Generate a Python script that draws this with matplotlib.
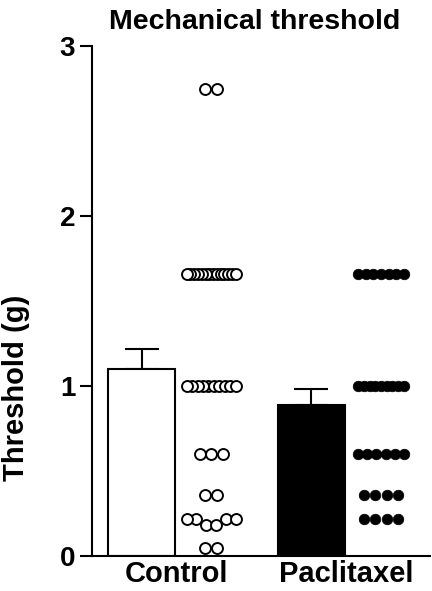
import numpy as np
import matplotlib
matplotlib.use("Agg")
import matplotlib.pyplot as plt

plt.rcParams['font.family'] = ['Liberation Sans', 'DejaVu Sans']
plt.rcParams['font.weight'] = 'bold'

categories = ["Control", "Paclitaxel"]
bar_means = [1.10, 0.89]
bar_sem_top = [1.22, 0.98]

control_values = ([2.75] * 2 + [1.66] * 14 + [1.0] * 10 + [0.60] * 3 +
                  [0.36] * 2 + [0.22] * 4 + [0.18] * 2 + [0.05] * 2)
paclitaxel_values = ([1.66] * 7 + [1.0] * 9 + [0.60] * 6 + [0.36] * 4 + [0.22] * 4)
yticks = [0, 1, 2, 3]

fig = plt.figure(figsize=(4.32, 5.91), dpi=100)
ax = fig.add_axes([92 / 432, 1 - 556 / 591, 1 - 92 / 432 - 0.004, (556 - 46) / 591])

bar_w = 0.395
dot_off = 0.41
spacing = 0.068
max_w = 0.29


def swarm_x(values, center, wmax):
    vals = np.array(sorted(values))
    bands = []
    cur = [vals[0]]
    for v in vals[1:]:
        if v - cur[0] < 0.06:
            cur.append(v)
        else:
            bands.append(cur)
            cur = [v]
    bands.append(cur)
    xs, ys = [], []
    for band in bands:
        n = len(band)
        sp = spacing if n == 1 else min(spacing, wmax / (n - 1))
        slots = (np.arange(n) - (n - 1) / 2) * sp
        order = np.argsort(np.abs(slots), kind='stable')
        for k, v in zip(order, band):
            xs.append(center + slots[k])
            ys.append(v)
    return np.array(xs), np.array(ys)


for i, (cat, m, top) in enumerate(zip(categories, bar_means, bar_sem_top)):
    face = 'white' if i == 0 else 'black'
    ax.bar(i, m, width=bar_w, color=face, edgecolor='black', linewidth=1.5, zorder=2)
    ax.errorbar(i, m, yerr=[[0], [top - m]], fmt='none', ecolor='black',
                elinewidth=1.5, capsize=12, capthick=1.5, zorder=1)

xs, ys = swarm_x(control_values, 0 + dot_off, max_w)
ax.scatter(xs, ys, s=62, facecolor='white', edgecolor='black', linewidth=1.4, zorder=3, clip_on=False)
xs, ys = swarm_x(paclitaxel_values, 1 + dot_off, 0.27)
ax.scatter(xs, ys, s=58, facecolor='black', edgecolor='black', linewidth=0.5, zorder=3, clip_on=False)

ax.set_xlim(-0.292, 1.7)
ax.set_ylim(0, 3)
ax.set_yticks(yticks)
ax.set_yticklabels([str(t) for t in yticks], fontsize=20, fontweight='bold')
ax.set_xticks([i + dot_off / 2 for i in range(len(categories))])
ax.set_xticklabels(categories, fontsize=21, fontweight='bold')
ax.tick_params(axis='x', length=0, pad=3)
ax.tick_params(axis='y', length=9, width=1.5, pad=3)
for s in ['top', 'right']:
    ax.spines[s].set_visible(False)
for s in ['left', 'bottom']:
    ax.spines[s].set_linewidth(1.5)
ax.set_ylabel('Threshold (g)', fontsize=21, fontweight='bold')
ax.yaxis.set_label_coords(-0.182, 0.33)
ax.set_title('Mechanical threshold', fontsize=20.5, fontweight='bold', pad=12, x=0.48)

fig.savefig('out.png', dpi=100)
